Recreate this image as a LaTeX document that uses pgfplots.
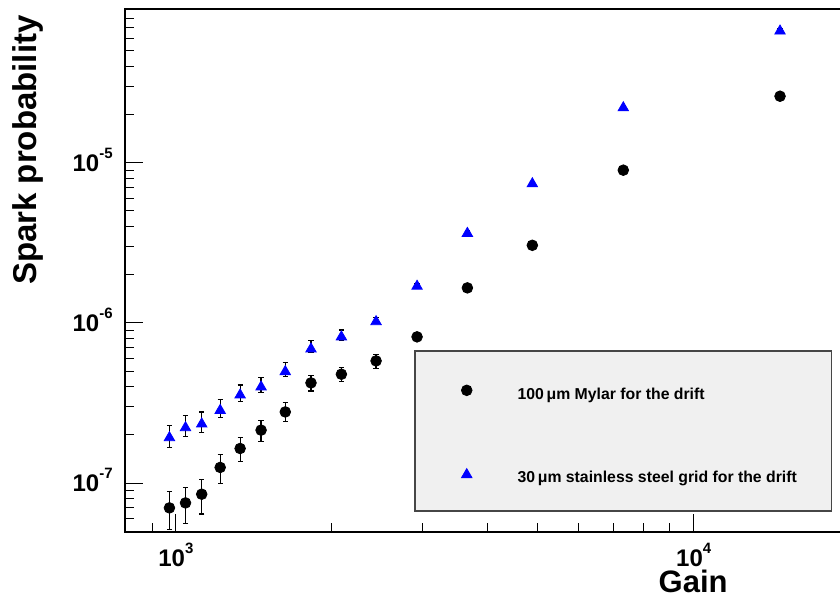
\documentclass[border=0pt]{standalone}
\usepackage{pgfplots}
\pgfplotsset{compat=1.18}
\usepackage{fontspec}
\setmainfont{Liberation Sans}
\definecolor{leggray}{RGB}{240,240,240}
\definecolor{legedge}{RGB}{70,70,70}
\newcommand{\pw}[1]{\fontsize{12}{14}\selectfont\bfseries 10\raisebox{6.5pt}{\fontsize{7.5}{8}\selectfont\bfseries #1}}
\begin{document}
\begin{tikzpicture}
% legend background box
\draw[fill=leggray, draw=legedge, line width=0.6pt] (145pt,10.35pt) rectangle (353.35pt,90.35pt);
\begin{axis}[
  at={(0pt,0pt)}, anchor=south west,
  scale only axis, width=358.5pt, height=261.2pt,
  xmode=log, ymode=log,
  xmin=798, xmax=19340, ymin=4.97e-8, ymax=9.07e-5,
  axis line style={line width=1pt},
  tick align=inside, xtick pos=bottom, ytick pos=left,
  major tick length=9pt, minor tick length=4.5pt,
  every tick/.style={black, line width=0.5pt},
  xtick={1000,10000}, xticklabels={\pw{3},\pw{4}},
  minor xtick={900,2000,3000,4000,5000,6000,7000,8000,9000},
  ytick={1e-7,1e-6,1e-5}, yticklabels={\pw{-7},\pw{-6},\pw{-5}},
  minor ytick={5e-8,6e-8,7e-8,8e-8,9e-8,2e-7,3e-7,4e-7,5e-7,6e-7,7e-7,8e-7,9e-7,2e-6,3e-6,4e-6,5e-6,6e-6,7e-6,8e-6,9e-6,2e-5,3e-5,4e-5,5e-5,6e-5,7e-5,8e-5},
  xticklabel style={anchor=base, yshift=-17.3pt, inner sep=0pt},
  yticklabel style={anchor=base east, inner sep=0pt, xshift=-6pt, yshift=-4.3pt},
  clip=false,
  legend style={draw=none, fill=none, inner sep=0pt, at={(0.4686,0.2816)}, anchor=north west,
    font=\fontsize{7.9}{9}\selectfont\bfseries, row sep=32.35pt,
    nodes={inner sep=0pt, text height=6pt, text depth=2pt},
    /tikz/every odd column/.append style={column sep=22.78pt}},
  legend cell align=left,
  mylegimg/.style={legend image code/.code={\draw[yshift=2.8pt,##1] plot coordinates {(0pt,0pt)};}},
]
\addplot[only marks, mark=*, mark size=2.67pt, black, mylegimg,
  error bars/.cd, y dir=both, y explicit,
  error bar style={black, line width=0.6pt},
  error mark options={black, rotate=90, mark size=1.3pt, line width=0.6pt}]
table[x=x, y=y, y error plus=ep, y error minus=em] {
x y ep em
972 7.0e-8 1.81e-8 1.87e-8
1044 7.52e-8 1.91e-8 1.93e-8
1122 8.52e-8 2.01e-8 2.10e-8
1218 1.252e-7 0.257e-7 0.258e-7
1331 1.644e-7 0.29e-7 0.288e-7
1461 2.14e-7 0.33e-7 0.33e-7
1627 2.78e-7 0.41e-7 0.36e-7
1824 4.22e-7 0.48e-7 0.46e-7
2088 4.78e-7 0.49e-7 0.47e-7
2436 5.79e-7 0.56e-7 0.58e-7
2923 8.18e-7 0.48e-7 0.46e-7
3656 1.654e-6 0.02e-6 0.02e-6
4880 3.05e-6 0.04e-6 0.04e-6
7313 8.98e-6 0.1e-6 0.1e-6
14680 2.60e-5 0.03e-5 0.03e-5
};
\addlegendentry{100\,μm Mylar for the drift}
\addplot[only marks, mark=triangle*, mark size=3pt, blue, mark options={yshift=-0.75pt}, mylegimg,
  error bars/.cd, y dir=both, y explicit,
  error bar style={black, line width=0.6pt},
  error mark options={black, rotate=90, mark size=1.3pt, line width=0.6pt}]
table[x=x, y=y, y error plus=ep, y error minus=em] {
x y ep em
972 1.963e-7 0.335e-7 0.288e-7
1044 2.265e-7 0.362e-7 0.311e-7
1122 2.389e-7 0.391e-7 0.311e-7
1218 2.904e-7 0.42e-7 0.351e-7
1331 3.625e-7 0.475e-7 0.395e-7
1461 4.067e-7 0.513e-7 0.387e-7
1627 5.07e-7 0.56e-7 0.44e-7
1824 7.02e-7 0.70e-7 0.49e-7
2088 8.35e-7 0.69e-7 0.55e-7
2436 1.04e-6 0.04e-6 0.04e-6
2923 1.73e-6 0.03e-6 0.03e-6
3656 3.70e-6 0.05e-6 0.05e-6
4880 7.55e-6 0.1e-6 0.1e-6
7313 2.25e-5 0.03e-5 0.03e-5
14680 6.78e-5 0.08e-5 0.08e-5
};
\addlegendentry{30\,μm stainless steel grid for the drift}
\end{axis}
\node[rotate=90, anchor=base east, font=\fontsize{16.5}{18}\selectfont\bfseries, inner sep=0pt] at (-44.25pt,258.35pt) {Spark probability};
\node[anchor=base east, font=\fontsize{15.5}{17}\selectfont\bfseries, inner sep=0pt] at (301.5pt,-30.6pt) {Gain};
\pgfresetboundingbox
\useasboundingbox (-62.5pt,-32.65pt) rectangle (357.5pt,265.85pt);
\end{tikzpicture}
\end{document}
